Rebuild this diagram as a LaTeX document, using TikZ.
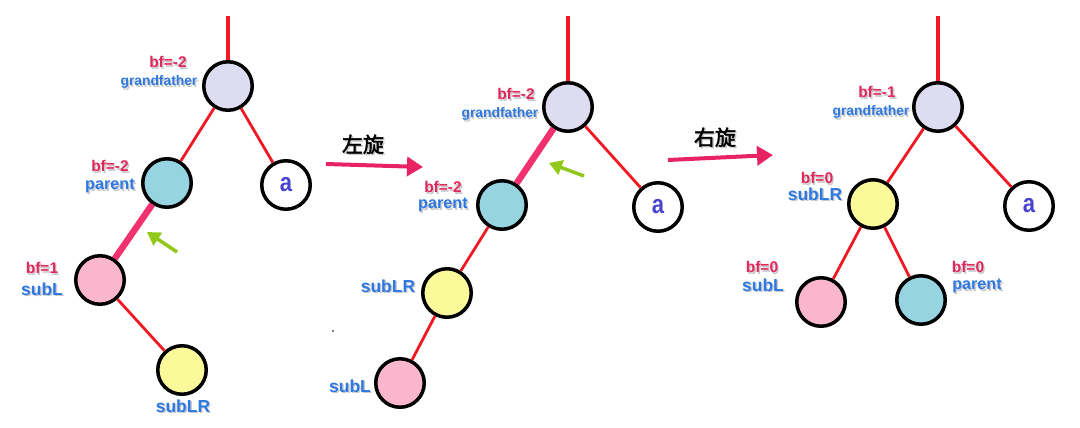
\documentclass[tikz,border=0pt]{standalone}
\usepackage{fontspec}
\usepackage{graphicx}
\setmainfont{Liberation Sans}
\newfontfamily\cjk{Noto Sans CJK SC}[AutoFakeBold=2]
\usetikzlibrary{arrows.meta}
\definecolor{edgered}{RGB}{240,25,35}
\definecolor{thickpink}{RGB}{242,50,110}
\definecolor{bfcol}{RGB}{225,40,90}
\definecolor{namecol}{RGB}{45,120,225}
\definecolor{acol}{RGB}{72,68,205}
\definecolor{gffill}{RGB}{222,220,240}
\definecolor{parfill}{RGB}{150,212,226}
\definecolor{sublfill}{RGB}{250,182,204}
\definecolor{sublrfill}{RGB}{250,250,155}
\definecolor{greenarr}{RGB}{145,200,25}
\definecolor{arrowpink}{RGB}{232,35,100}
\definecolor{shadowgray}{RGB}{200,200,205}
\newcommand{\shd}[1]{\rlap{\raisebox{-1.4pt}{\hspace{1.4pt}\textcolor{shadowgray}{#1}}}#1}
\newcommand{\aglyph}{\raisebox{1pt}{\scalebox{1.05}[1.25]{a}}}
\tikzset{
  tnode/.style={circle,draw=black,line width=3.5pt,minimum size=48.5pt,inner sep=0pt},
  gf/.style={tnode,fill=gffill},
  par/.style={tnode,fill=parfill},
  subl/.style={tnode,fill=sublfill},
  sublr/.style={tnode,fill=sublrfill},
  anode/.style={tnode,fill=white,text=acol,font=\fontsize{21}{21}\selectfont\bfseries},
  edge/.style={draw=edgered,line width=2.8pt},
  rootedge/.style={draw=edgered,line width=3.8pt},
  hotedge/.style={draw=thickpink,line width=6.5pt},
  bflbl/.style={inner sep=0pt,text=bfcol,font=\fontsize{15.5}{16}\selectfont\bfseries},
  gflbl/.style={inner sep=0pt,text=namecol,font=\fontsize{13.8}{14}\selectfont\bfseries},
  namelbl/.style={inner sep=0pt,text=namecol,font=\fontsize{16.2}{17}\selectfont\bfseries},
  biglbl/.style={inner sep=0pt,text=namecol,font=\fontsize{17.4}{18}\selectfont\bfseries},
  rotlbl/.style={inner sep=0pt,text=black,font=\fontsize{21}{22}\selectfont\cjk\bfseries},
  rotarrow/.style={draw=arrowpink,line width=4pt,-{Triangle[length=16pt,width=19pt]}},
  greenarrow/.style={draw=greenarr,line width=3.5pt,-{Triangle[length=13pt,width=15pt]}},
}
\begin{document}
\begin{tikzpicture}[x=1pt,y=-1pt]
\useasboundingbox (0,0) rectangle (1080,428);
% ---------- panel 1 ----------
\node[gf]    (g1) at (228,86) {};
\node[par]   (p1) at (167,183) {};
\node[anode] (a1) at (286,185) {\aglyph};
\node[subl]  (l1) at (100,280) {};
\node[sublr] (r1) at (182,370) {};
\coordinate (t1) at (228,16);
\draw[rootedge] (t1) -- (g1);
\draw[edge] (g1) -- (p1);
\draw[edge] (g1) -- (a1);
\draw[hotedge] (p1) -- (l1);
\draw[edge] (l1) -- (r1);
\node[bflbl]   (b1g) at (168,63) {\shd{bf=-2}};
\node[gflbl]   (n1g) at (159,83) {\shd{grandfather}};
\node[bflbl]   (b1p) at (110,167) {\shd{bf=-2}};
\node[namelbl] (n1p) at (110,187) {\shd{parent}};
\node[bflbl]   (b1l) at (42,269) {\shd{bf=1}};
\node[biglbl]  (n1l) at (42,290) {\shd{subL}};
\node[biglbl]  (n1r) at (183,407) {\shd{subLR}};
\coordinate (ga1s) at (177,252);
\coordinate (ga1e) at (147,232);
\draw[greenarrow] (ga1s) -- (ga1e);
% ---------- arrow 1 ----------
\node[rotlbl] (rot1) at (363,145) {\shd{左旋}};
\coordinate (ra1s) at (326,164);
\coordinate (ra1e) at (423,167);
\draw[rotarrow] (ra1s) -- (ra1e);
% stray dot
\fill[black] (333,331) circle (0.9pt);
% ---------- panel 2 ----------
\node[gf]    (g2) at (568,107) {};
\node[par]   (p2) at (502,205) {};
\node[anode] (a2) at (658,207) {\aglyph};
\node[sublr] (r2) at (447,293) {};
\node[subl]  (l2) at (400,383) {};
\coordinate (t2) at (568,16);
\draw[rootedge] (t2) -- (g2);
\draw[hotedge] (g2) -- (p2);
\draw[edge] (g2) -- (a2);
\draw[edge] (p2) -- (r2);
\draw[edge] (r2) -- (l2);
\node[bflbl]   (b2g) at (516,95) {\shd{bf=-2}};
\node[gflbl]   (n2g) at (500,115) {\shd{grandfather}};
\node[bflbl]   (b2p) at (443,188) {\shd{bf=-2}};
\node[namelbl] (n2p) at (443,206) {\shd{parent}};
\node[biglbl]  (n2r) at (388,287) {\shd{subLR}};
\node[biglbl]  (n2l) at (350,387) {\shd{subL}};
\coordinate (ga2s) at (584,176);
\coordinate (ga2e) at (549,163);
\draw[greenarrow] (ga2s) -- (ga2e);
% ---------- arrow 2 ----------
\node[rotlbl] (rot2) at (715,138) {\shd{右旋}};
\coordinate (ra2s) at (668,160);
\coordinate (ra2e) at (773,155);
\draw[rotarrow] (ra2s) -- (ra2e);
% ---------- panel 3 ----------
\node[gf]    (g3) at (938,107) {};
\node[sublr] (r3) at (873,204) {};
\node[anode] (a3) at (1029,206) {\aglyph};
\node[subl]  (l3) at (821,302) {};
\node[par]   (p3) at (921,300) {};
\coordinate (t3) at (938,16);
\draw[rootedge] (t3) -- (g3);
\draw[edge] (g3) -- (r3);
\draw[edge] (g3) -- (a3);
\draw[edge] (r3) -- (l3);
\draw[edge] (r3) -- (p3);
\node[bflbl]   (b3g) at (877,93) {\shd{bf=-1}};
\node[gflbl]   (n3g) at (871,113) {\shd{grandfather}};
\node[bflbl]   (b3r) at (817,179) {\shd{bf=0}};
\node[biglbl]  (n3r) at (815,195) {\shd{subLR}};
\node[bflbl]   (b3l) at (762,268) {\shd{bf=0}};
\node[biglbl]  (n3l) at (763,286) {\shd{subL}};
\node[bflbl]   (b3p) at (968,268) {\shd{bf=0}};
\node[namelbl] (n3p) at (977,287) {\shd{parent}};
\end{tikzpicture}
\end{document}
